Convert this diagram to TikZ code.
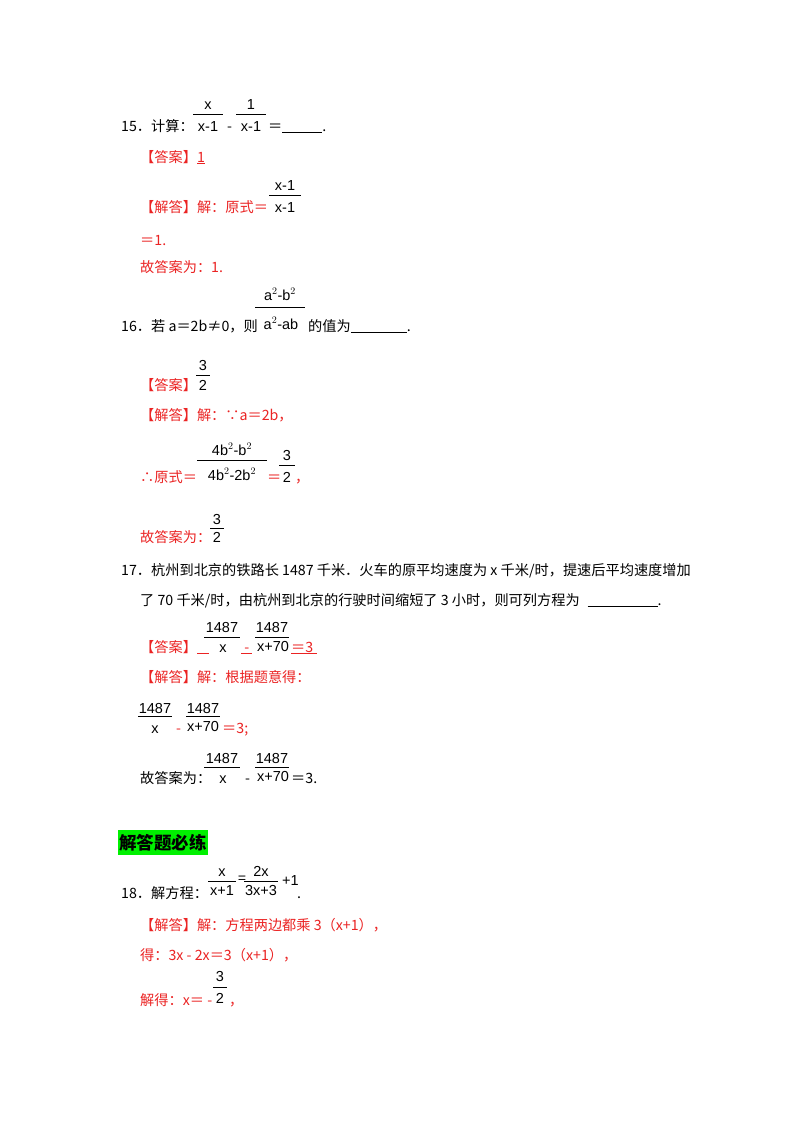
\documentclass[tikz,border=0pt]{standalone}
\usepackage{fontspec}
\setmainfont{Liberation Serif}
\newfontfamily\cjk{Noto Sans CJK SC}
\newfontfamily\fm{Liberation Sans}
\definecolor{ans}{RGB}{235,35,35}
\definecolor{hl}{RGB}{0,240,0}
\newcommand\myfrac[7][black]{%
 \node[anchor=base,font=\fm\fontsize{14.5}{14}\selectfont,text=#1,inner sep=0] at (#2,#3) {#6};
 \draw[line width=0.7pt] (#2-#5,#4) -- (#2+#5,#4);
}
\newcommand\myden[4][black]{\node[anchor=base,font=\fm\fontsize{14.5}{14}\selectfont,text=#1,inner sep=0] at (#2,#3) {#4};}
\tikzset{t/.style={anchor=base west,inner sep=0,font=\cjk\fontsize{14.2}{14}\selectfont},
 r/.style={t,text=ans}}
\begin{document}
\begin{tikzpicture}[x=1pt,y=-1pt]
\useasboundingbox[fill=white] (0,0) rectangle (800,1132);
% 15
\node[t] at (121,131) {15．计算：};
\myfrac{208}{109}{114}{15}{x}{}\myden{208}{131}{x-1}
\node[t] at (227,131) {-};
\myfrac{251}{109}{114}{15}{1}{}\myden{251}{131}{x-1}
\node[t] at (268,131) {＝\underline{\hspace{40pt}}.};
\node[r] at (140,162) {【答案】\underline{1}};
\node[r] at (140,212) {【解答】解：原式＝};
\myfrac{285}{190}{195}{16}{x-1}{}\myden{285}{212}{x-1}
\node[r] at (140,245) {＝1.};
\node[r] at (140,272) {故答案为：1.};
% 16
\node[t] at (121,331) {16．若 \textit{a}＝2\textit{b}≠0，则};
\myfrac{280}{300}{307}{25}{a$^{2}$-b$^{2}$}{}\myden{281}{329}{a$^{2}$-ab}
\node[t] at (308,331) {的值为\underline{\hspace{56pt}}.};
\node[r] at (140,390) {【答案】};
\myfrac{203}{370}{375}{7}{3}{}\myden{203}{390}{2}
\node[r] at (140,420) {【解答】解：∵\textit{a}＝2\textit{b}，};
\node[r] at (140,482) {∴原式＝};
\myfrac{232}{455}{460}{35}{4b$^{2}$-b$^{2}$}{}\myden{232}{480}{4b$^{2}$-2b$^{2}$}
\node[r] at (267,482) {＝};
\myfrac{287}{460}{465}{8}{3}{}\myden{287}{482}{2}
\node[r] at (295,482) {，};
\node[r] at (140,542) {故答案为：};
\myfrac{217}{524}{528}{7}{3}{}\myden{217}{542}{2}
% 17
\node[t] at (121,575) {17．杭州到北京的铁路长 1487 千米．火车的原平均速度为 \textit{x} 千米/时，提速后平均速度增加};
\node[t] at (140,605) {了 70 千米/时，由杭州到北京的行驶时间缩短了 3 小时，则可列方程为\hspace{8pt}\underline{\hspace{70pt}}.};
\node[r] at (140,652) {【答案】\underline{\hspace{12pt}}};
\myfrac{222}{632}{637}{18}{1487}{}\myden{223}{652}{x}
\node[r] at (241,652) {\underline{ - }};
\myfrac{272}{632}{637}{17}{1487}{}\myden{273}{651}{x+70}
\node[r] at (291,652) {\underline{＝3\hspace{4pt}}};
\node[r] at (140,682) {【解答】解：根据题意得：};
\myfrac{155}{713}{716}{17}{1487}{}\myden{155}{733}{x}
\node[r] at (176,733) {-};
\myfrac{203}{713}{716}{17}{1487}{}\myden{203}{731}{x+70}
\node[r] at (222,733) {＝3;};
\node[t] at (140,783) {故答案为：};
\myfrac{222}{763}{767}{18}{1487}{}\myden{223}{783}{x}
\node[t] at (245,783) {-};
\myfrac{272}{763}{767}{17}{1487}{}\myden{273}{781}{x+70}
\node[t] at (291,783) {＝3.};
% heading
\fill[hl] (118,830) rectangle (208,855);
\node[t,font=\cjk\bfseries\fontsize{17.5}{17}\selectfont] at (119,849) {解答题必练};
% 18
\node[t] at (121,898) {18．解方程：};
\myfrac{222}{876}{881}{14}{x}{}\myden{222}{895}{x+1}
\node[t] at (238,883) {=};
\myfrac{261}{876}{881}{17}{2x}{}\myden{261}{895}{3x+3}
\node[anchor=base west,inner sep=0,font=\fm\fontsize{14.5}{14}\selectfont] at (282,885) {+1};
\node[t] at (297,898) {.};
\node[r] at (140,930) {【解答】解：方程两边都乘 3（\textit{x}+1），};
\node[r] at (140,960) {得：3\textit{x} - 2\textit{x}＝3（\textit{x}+1），};
\node[r] at (140,1005) {解得：\textit{x}＝ -};
\myfrac{220}{981}{987}{7}{3}{}\myden{220}{1003}{2}
\node[r] at (229,1005) {，};
\end{tikzpicture}
\end{document}
